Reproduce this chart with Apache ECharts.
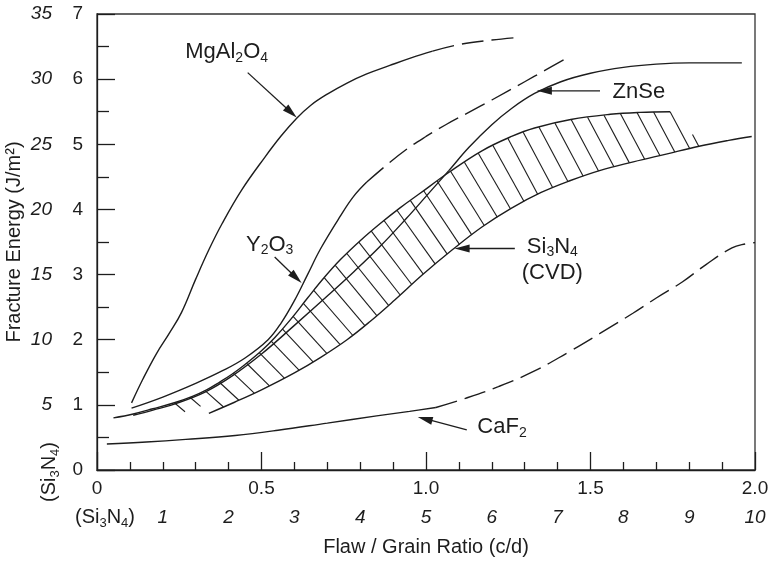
<!DOCTYPE html>
<html>
<head>
<meta charset="utf-8">
<script src="https://cdn.jsdelivr.net/npm/echarts@6/dist/echarts.min.js"></script>
<style>
  html, body { margin: 0; padding: 0; background: #fff; }
  #chart { width: 770px; height: 564px; }
</style>
</head>
<body>
<div id="chart"></div>
<script>
// Fracture energy of IR window materials against flaw / grain ratio (c/d)

// ---- data (x = c/d ratio, y = fracture energy, J/m^2 on the 0-7 scale) ----
const mgal2o4Solid = [[0.105,1.03],[0.14,1.40],[0.18,1.78],[0.22,2.10],[0.257,2.42],[0.30,2.93],[0.34,3.38],[0.38,3.78],[0.44,4.30],[0.51,4.80],[0.56,5.13],[0.607,5.40],[0.65,5.60],[0.70,5.77],[0.76,5.94],[0.82,6.08],[0.89,6.21],[0.957,6.33],[1.02,6.43]];
const mgal2o4Dash  = [[1.02,6.43],[1.10,6.53],[1.20,6.60],[1.28,6.64]];

const y2o3Solid = [[0.105,0.95],[0.20,1.12],[0.30,1.33],[0.38,1.52],[0.45,1.72],[0.52,2.00],[0.56,2.26],[0.60,2.60],[0.64,3.00],[0.68,3.40],[0.74,3.90],[0.78,4.20],[0.82,4.42]];
const y2o3Dash  = [[0.82,4.42],[0.875,4.66],[0.94,4.92],[1.00,5.12],[1.06,5.30],[1.13,5.49],[1.20,5.68],[1.30,5.96],[1.36,6.13],[1.43,6.33]];

const znse = [[0.11,0.84],[0.17,0.92],[0.24,1.02],[0.33,1.20],[0.41,1.44],[0.50,1.78],[0.60,2.22],[0.70,2.67],[0.78,3.04],[0.86,3.43],[0.94,3.86],[1.00,4.20],[1.07,4.60],[1.13,4.95],[1.20,5.30],[1.26,5.55],[1.33,5.78],[1.41,5.96],[1.50,6.09],[1.60,6.18],[1.70,6.23],[1.80,6.25],[1.96,6.25]];

// Si3N4 (CVD) scatter band: upper and lower bounds
const si3n4Upper = [[0.05,0.80],[0.11,0.86],[0.17,0.94],[0.24,1.04],[0.29,1.13],[0.333,1.23],[0.373,1.35],[0.41,1.47],[0.45,1.62],[0.50,1.83],[0.54,2.03],[0.59,2.32],[0.64,2.64],[0.69,2.95],[0.74,3.23],[0.80,3.52],[0.86,3.78],[0.92,4.02],[0.98,4.24],[1.07,4.57],[1.17,4.90],[1.26,5.12],[1.33,5.25],[1.44,5.38],[1.56,5.46],[1.65,5.49],[1.742,5.50]];
const si3n4Lower = [[0.34,0.87],[0.418,1.04],[0.50,1.23],[0.60,1.49],[0.68,1.73],[0.76,2.00],[0.83,2.28],[0.905,2.61],[0.99,3.00],[1.08,3.38],[1.17,3.73],[1.26,4.02],[1.35,4.26],[1.437,4.44],[1.53,4.60],[1.63,4.73],[1.73,4.85],[1.83,4.97],[1.92,5.06],[1.99,5.12]];
const si3n4LooseHatch = [[1.81,5.15]];

const caf2Solid = [[0.03,0.40],[0.15,0.43],[0.27,0.47],[0.42,0.53],[0.55,0.61],[0.70,0.72],[0.85,0.83],[0.95,0.90],[1.03,0.96]];
const caf2Dash  = [[1.03,0.96],[1.12,1.10],[1.22,1.28],[1.33,1.52],[1.43,1.80],[1.53,2.10],[1.63,2.41],[1.70,2.64],[1.78,2.89],[1.85,3.15],[1.93,3.41],[1.97,3.47],[2.00,3.49]];

// axis scales
const xTicks = [0, 0.5, 1.0, 1.5, 2.0];
const xSi3n4Ticks = [1, 2, 3, 4, 5, 6, 7, 8, 9, 10];
const yTicks = [0, 1, 2, 3, 4, 5, 6, 7];
const ySi3n4Ticks = [5, 10, 15, 20, 25, 30, 35];

// ---- styling / layout ----
const FONT = '"Liberation Sans", Arial, Helvetica, sans-serif';
const INK = '#1d1d1d';
const GRID = { left: 97, right: 15, top: 14, bottom: 94 };
const W = 770, H = 564;

const RICH = {
  t: { fontSize: 22, fontFamily: FONT, color: INK, lineHeight: 26 },
  s: { fontSize: 14, fontFamily: FONT, color: INK, verticalAlign: 'bottom' }
};

// callouts: label centre, arrow tail, arrow tip (data units)
const callouts = [
  { label: '{t|MgAl}{s|2}{t|O}{s|4}', at: [0.394, 6.41], from: [0.458, 6.10], to: [0.607, 5.41] },
  { label: '{t|Y}{s|2}{t|O}{s|3}', at: [0.525, 3.46], from: [0.540, 3.27], to: [0.622, 2.87] },
  { label: '{t|ZnSe}', at: [1.647, 5.81], from: [1.529, 5.82], to: [1.337, 5.82] },
  { label: '{t|Si}{s|3}{t|N}{s|4}\n{t|(CVD)}', at: [1.384, 3.23], from: [1.270, 3.40], to: [1.087, 3.40] },
  { label: '{t|CaF}{s|2}', at: [1.231, 0.66], from: [1.124, 0.615], to: [0.975, 0.815] }
];

function interp(arr, x) {
  if (x <= arr[0][0]) return arr[0][1];
  for (let i = 1; i < arr.length; i++) {
    if (x <= arr[i][0]) {
      const a = arr[i - 1], b = arr[i];
      return a[1] + (b[1] - a[1]) * (x - a[0]) / (b[0] - a[0]);
    }
  }
  return arr[arr.length - 1][1];
}

function hatchAngle(x) {
  const k = Math.max(0, Math.min(1, (x - 0.25) / 1.0));
  return (40 + 22 * k) * Math.PI / 180;
}

// first hit of ray p + t*d with a pixel polyline
function rayHit(p, d, poly) {
  let best = Infinity;
  for (let i = 1; i < poly.length; i++) {
    const a = poly[i - 1], b = poly[i];
    const ex = b[0] - a[0], ey = b[1] - a[1];
    const den = d[0] * ey - d[1] * ex;
    if (Math.abs(den) < 1e-9) continue;
    const ax = a[0] - p[0], ay = a[1] - p[1];
    const t = (ax * ey - ay * ex) / den;
    const s = (ax * d[1] - ay * d[0]) / den;
    if (t > 0.5 && s >= 0 && s <= 1 && t < best) best = t;
  }
  return best;
}

function renderHatch(params, api) {
  const x0 = 0.235;
  const pts = [[x0, interp(si3n4Upper, x0)]].concat(si3n4Upper.filter(p => p[0] > x0));
  const pix = pts.map(p => api.coord(p));
  const lower = si3n4Lower.map(p => api.coord(p));
  const cum = [0];
  for (let i = 1; i < pix.length; i++) {
    cum.push(cum[i - 1] + Math.hypot(pix[i][0] - pix[i - 1][0], pix[i][1] - pix[i - 1][1]));
  }
  const total = cum[cum.length - 1];
  const n = Math.round(total / 16.5);
  const step = total / n;
  const starts = [];
  for (let k = 0; k <= n; k++) {
    const L = Math.min(k * step, total);
    let i = 1;
    while (i < cum.length - 1 && cum[i] < L) i++;
    const f = (L - cum[i - 1]) / ((cum[i] - cum[i - 1]) || 1);
    starts.push({
      p: [pix[i - 1][0] + f * (pix[i][0] - pix[i - 1][0]), pix[i - 1][1] + f * (pix[i][1] - pix[i - 1][1])],
      x: pts[i - 1][0] + f * (pts[i][0] - pts[i - 1][0])
    });
  }
  si3n4LooseHatch.forEach(q => starts.push({ p: api.coord(q), x: q[0] }));
  const children = starts.map(st => {
    const a = hatchAngle(st.x);
    const d = [Math.cos(a), Math.sin(a)];
    let t = rayHit(st.p, d, lower);
    if (!isFinite(t) || t > 140) t = 14;
    return {
      type: 'line',
      shape: { x1: st.p[0], y1: st.p[1], x2: st.p[0] + d[0] * t, y2: st.p[1] + d[1] * t },
      style: { stroke: INK, lineWidth: 1.1 }
    };
  });
  return { type: 'group', children };
}

function renderCallout(params, api) {
  const c = callouts[params.dataIndex];
  const s = api.coord(c.from), tip = api.coord(c.to), at = api.coord(c.at);
  const dx = tip[0] - s[0], dy = tip[1] - s[1];
  const len = Math.hypot(dx, dy), ux = dx / len, uy = dy / len;
  const hl = 15, hw = 4;
  const bx = tip[0] - ux * hl, by = tip[1] - uy * hl;
  return {
    type: 'group',
    children: [
      { type: 'line', shape: { x1: s[0], y1: s[1], x2: bx + ux * 3, y2: by + uy * 3 }, style: { stroke: INK, lineWidth: 1.3 } },
      { type: 'polygon', shape: { points: [[tip[0], tip[1]], [bx - uy * hw, by + ux * hw], [bx + uy * hw, by - ux * hw]] }, style: { fill: INK } },
      { type: 'text', x: at[0], y: at[1], style: { text: c.label, rich: RICH, align: 'center', verticalAlign: 'middle', fill: INK, font: '22px ' + FONT } }
    ]
  };
}

function curve(name, data, dashed) {
  return {
    name, type: 'line', data, xAxisIndex: 0, yAxisIndex: 0,
    showSymbol: false, symbol: 'none', smooth: 0.4,
    lineStyle: { color: INK, width: 1.4, type: dashed ? [22, 8] : 'solid' },
    silent: true, z: 3
  };
}

const chart = echarts.init(document.getElementById('chart'), null, { renderer: 'canvas' });

const axisLineStyle = { color: INK, width: 1.3 };
const tickLabel = { color: INK, fontFamily: FONT, fontSize: 19 };
const siRich = {
  t: { fontSize: 20, fontFamily: FONT, color: INK, lineHeight: 25 },
  s: { fontSize: 13, fontFamily: FONT, color: INK, verticalAlign: 'bottom' }
};

chart.setOption({
  animation: false,
  backgroundColor: '#fff',
  grid: {
    left: GRID.left, right: GRID.right, top: GRID.top, bottom: GRID.bottom,
    show: true, borderColor: '#333', borderWidth: 1.3,
    containLabel: false, outerBoundsMode: 'none'
  },
  xAxis: [
    {
      type: 'value', min: xTicks[0], max: xTicks[xTicks.length - 1], interval: xTicks[1] - xTicks[0],
      position: 'bottom',
      axisLine: { show: true, lineStyle: axisLineStyle },
      axisTick: { show: true, inside: true, length: 18, lineStyle: axisLineStyle },
      minorTick: { show: true, splitNumber: 5, length: 8, lineStyle: axisLineStyle },
      splitLine: { show: false },
      axisLabel: Object.assign({ margin: 9, formatter: v => (v === 0 ? '0' : v.toFixed(1)) }, tickLabel),
      name: 'Flaw / Grain Ratio (c/d)', nameLocation: 'middle', nameGap: 67,
      nameTextStyle: { color: INK, fontFamily: FONT, fontSize: 20 }
    },
    {
      type: 'value', min: 0, max: xSi3n4Ticks[xSi3n4Ticks.length - 1], interval: xSi3n4Ticks[1] - xSi3n4Ticks[0],
      position: 'bottom', offset: 29,
      axisLine: { show: false }, axisTick: { show: false }, splitLine: { show: false },
      axisLabel: Object.assign({ margin: 9, fontStyle: 'italic', formatter: v => (v === 0 ? '' : String(v)) }, tickLabel)
    }
  ],
  yAxis: [
    {
      type: 'value', min: yTicks[0], max: yTicks[yTicks.length - 1], interval: yTicks[1] - yTicks[0],
      position: 'left',
      axisLine: { show: true, lineStyle: axisLineStyle },
      axisTick: { show: true, inside: true, length: 18, lineStyle: axisLineStyle },
      minorTick: { show: true, splitNumber: 2, length: 12, lineStyle: axisLineStyle },
      splitLine: { show: false },
      axisLabel: Object.assign({ margin: 14 }, tickLabel),
      name: 'Fracture Energy (J/m²)', nameLocation: 'middle', nameGap: 73, nameRotate: 90,
      nameTextStyle: { color: INK, fontFamily: FONT, fontSize: 20 }
    },
    {
      type: 'value', min: 0, max: ySi3n4Ticks[ySi3n4Ticks.length - 1], interval: ySi3n4Ticks[1] - ySi3n4Ticks[0],
      position: 'left', offset: 31,
      axisLine: { show: false }, axisTick: { show: false }, splitLine: { show: false },
      axisLabel: Object.assign({ margin: 14, fontStyle: 'italic', formatter: v => (v === 0 ? '' : String(v)) }, tickLabel)
    }
  ],
  graphic: [
    {
      type: 'text', x: 49, y: H - GRID.bottom + 2, rotation: Math.PI / 2,
      style: { text: '{t|(Si}{s|3}{t|N}{s|4}{t|)}', rich: siRich, align: 'center', verticalAlign: 'middle', fill: INK }
    },
    {
      type: 'text', x: GRID.left + 8, y: H - GRID.bottom + 47,
      style: { text: '{t|(Si}{s|3}{t|N}{s|4}{t|)}', rich: siRich, align: 'center', verticalAlign: 'middle', fill: INK }
    }
  ],
  series: [
    curve('MgAl2O4', mgal2o4Solid, false),
    curve('MgAl2O4 (extrapolated)', mgal2o4Dash, true),
    curve('Y2O3', y2o3Solid, false),
    curve('Y2O3 (extrapolated)', y2o3Dash, true),
    curve('ZnSe', znse, false),
    curve('Si3N4 upper', si3n4Upper, false),
    curve('Si3N4 lower', si3n4Lower, false),
    curve('CaF2', caf2Solid, false),
    curve('CaF2 (extrapolated)', caf2Dash, true),
    {
      name: 'Si3N4 band hatch', type: 'custom', renderItem: renderHatch,
      data: [[1, 3]], encode: { x: 0, y: 1 }, silent: true, z: 2, clip: false
    },
    {
      name: 'callouts', type: 'custom', renderItem: renderCallout,
      data: callouts.map(c => c.to), encode: { x: 0, y: 1 }, silent: true, z: 4, clip: false
    }
  ]
});
</script>
</body>
</html>
